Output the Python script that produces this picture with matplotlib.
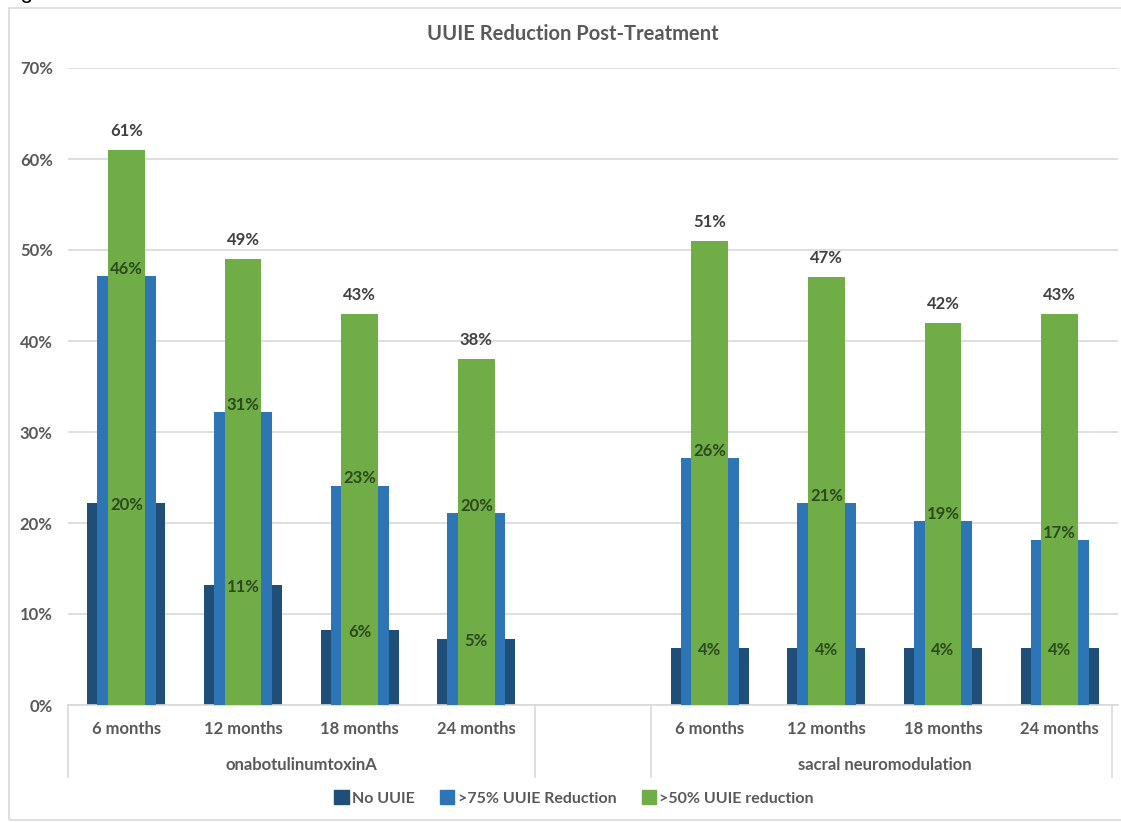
import matplotlib
matplotlib.use("Agg")
import matplotlib.pyplot as plt
import matplotlib.transforms as mtransforms
from matplotlib.patches import Patch, Rectangle
import numpy as np

# ---- data ----
groups = ["onabotulinumtoxinA", "sacral neuromodulation"]
periods = ["6 months", "12 months", "18 months", "24 months"]
series_names = ["No UUIE", ">75% UUIE Reduction", ">50% UUIE reduction"]

# bar heights as drawn (fraction)
no_uuie_ona = [0.222, 0.132, 0.082, 0.073]
no_uuie_snm = [0.063, 0.063, 0.063, 0.063]
red75_ona = [0.471, 0.322, 0.241, 0.211]
red75_snm = [0.271, 0.222, 0.202, 0.181]
red50_ona = [0.61, 0.49, 0.43, 0.38]
red50_snm = [0.51, 0.47, 0.42, 0.43]

# data label texts as shown
no_uuie_lbl_ona = ["20%", "11%", "6%", "5%"]
no_uuie_lbl_snm = ["4%", "4%", "4%", "4%"]
red75_lbl_ona = ["46%", "31%", "23%", "20%"]
red75_lbl_snm = ["26%", "21%", "19%", "17%"]
red50_lbl_ona = ["61%", "49%", "43%", "38%"]
red50_lbl_snm = ["51%", "47%", "42%", "43%"]

yticks = [0, 0.1, 0.2, 0.3, 0.4, 0.5, 0.6, 0.7]
ytick_labels = ["0%", "10%", "20%", "30%", "40%", "50%", "60%", "70%"]

# ---- style ----
C_DARK = "#1F4E79"
C_BLUE = "#2E75B6"
C_GREEN = "#70AD47"
C_TXT = "#595959"
C_LBL = "#404040"
C_IN = "#2C4A1B"
FONT = ["Lato", "DejaVu Sans"]
plt.rcParams["font.family"] = FONT

W, H = 1121, 822
fig = plt.figure(figsize=(W / 100, H / 100), dpi=100)
fig.patch.set_facecolor("white")
ax = fig.add_axes([68 / W, (H - 705) / H, (1118 - 68) / W, (705 - 68) / H])

x_ona = np.arange(4)
x_snm = np.arange(4) + 5
xs = np.concatenate([x_ona, x_snm])
dark = no_uuie_ona + no_uuie_snm
blue = red75_ona + red75_snm
green = red50_ona + red50_snm
lbl_dark = no_uuie_lbl_ona + no_uuie_lbl_snm
lbl_blue = red75_lbl_ona + red75_lbl_snm
lbl_green = red50_lbl_ona + red50_lbl_snm

ax.bar(xs, dark, width=0.67, color=C_DARK, zorder=2, label=series_names[0])
ax.bar(xs, blue, width=0.50, color=C_BLUE, zorder=3, label=series_names[1])
ax.bar(xs, green, width=0.315, color=C_GREEN, zorder=4, label=series_names[2])

LFS = 12
for x, d, b, g, ld, lb, lg in zip(xs, dark, blue, green, lbl_dark, lbl_blue, lbl_green):
    ax.annotate(lg, (x, g), xytext=(0, 8), textcoords="offset points",
                ha="center", va="bottom", fontsize=LFS, fontweight="bold", color=C_LBL, zorder=6)
    ax.annotate(lb, (x, b), xytext=(0, -0.5), textcoords="offset points",
                ha="center", va="bottom", fontsize=LFS, fontweight="bold", color=C_IN, zorder=6)
    ax.annotate(ld, (x, d), xytext=(0, -1.5), textcoords="offset points",
                ha="center", va="center", fontsize=LFS, fontweight="bold", color=C_IN, zorder=6)

ax.set_xlim(-0.5, 8.5)
ax.set_ylim(0, 0.7)
ax.set_yticks(yticks)
ax.set_yticklabels(ytick_labels, fontsize=12, fontweight="bold", color=C_TXT)
ax.tick_params(axis="y", length=0, pad=11)
ax.tick_params(axis="x", length=0)
ax.set_xticks([])
ax.yaxis.grid(True, color="#D9D9D9", linewidth=1.2, zorder=0)
ax.set_axisbelow(True)
for s in ["top", "right", "left"]:
    ax.spines[s].set_visible(False)
ax.spines["bottom"].set_color("#D9D9D9")
ax.spines["bottom"].set_linewidth(1.2)

trans = mtransforms.blended_transform_factory(ax.transData, ax.transAxes)
ah = 705 - 68
for x, p in zip(xs, periods + periods):
    ax.text(x, -24 / ah, p, transform=trans, ha="center", va="center",
            fontsize=12, fontweight="bold", color=C_TXT)
ax.text(1.5, -60 / ah, groups[0], transform=trans, ha="center", va="center",
        fontsize=12, fontweight="bold", color=C_TXT)
ax.text(6.5, -60 / ah, groups[1], transform=trans, ha="center", va="center",
        fontsize=12, fontweight="bold", color=C_TXT)
for sx in [-0.5, 3.5, 4.5, 8.45]:
    ax.plot([sx, sx], [0, -72 / ah], transform=trans, color="#D9D9D9",
            linewidth=1.2, clip_on=False)

fig.text(573 / W, 1 - 34 / H, "UUIE Reduction Post-Treatment", ha="center", va="center",
         fontsize=14.5, fontweight="bold", color=C_TXT)

handles = [Patch(color=C_DARK), Patch(color=C_BLUE), Patch(color=C_GREEN)]
leg = fig.legend(handles, series_names, loc="center", bbox_to_anchor=(574 / W, 1 - 798 / H),
                 ncol=3, frameon=False, fontsize=11.5, handlelength=0.9, handleheight=0.9,
                 handletextpad=0.2, columnspacing=1.6)
for t in leg.get_texts():
    t.set_color(C_TXT)
    t.set_fontweight("bold")

# chart frame and figure caption
fig.add_artist(Rectangle((9 / W, 2 / H), 1.2, 1 - 10 / H, transform=fig.transFigure,
                         fill=False, edgecolor="#D9D9D9", linewidth=1.2))
fig.text(2 / W, 1 - 3 / H, "Figure 2.", ha="left", va="bottom", fontsize=16,
         family=["Liberation Sans", "DejaVu Sans"], color="black")

fig.savefig("out.png", dpi=100)
